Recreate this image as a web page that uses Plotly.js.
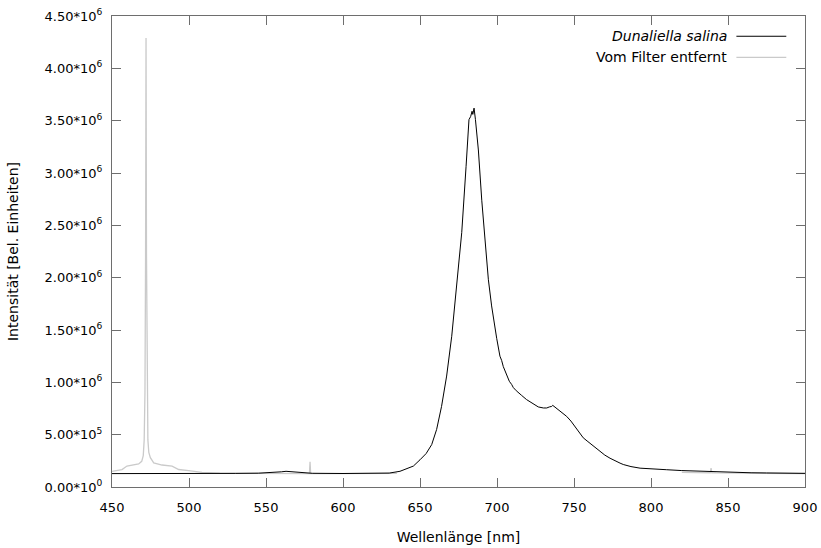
<!DOCTYPE html>
<html>
<head>
<meta charset="utf-8">
<script src="https://cdn.plot.ly/plotly-3.0.1.min.js"></script>
<style>html,body{margin:0;padding:0;background:#fff}#chart{width:821px;height:548px}</style>
</head>
<body>
<div id="chart"></div>
<script>
// Dunaliella salina spectrum (wavelength nm, intensity)
const salinaX = [450, 470, 490, 510, 530, 545, 555, 560, 563, 567, 572, 580, 600, 620, 630, 637, 642, 645.7, 650, 654, 657.6, 660.8, 664, 667.3, 670.6, 672.7, 674.9, 677.1, 679.9, 681.8, 682.9, 683.8, 684.3, 685.1, 686, 687.9, 690.1, 692.2, 694.4, 696.5, 698.7, 699.8, 701.9, 703, 704.1, 706.3, 708, 709.5, 710.6, 712.5, 714.9, 716, 719.2, 721.4, 723.6, 726.8, 730.1, 732.3, 734, 735.5, 736.2, 738, 740.9, 743, 745.2, 748, 750.6, 753, 756, 758.5, 761.5, 764, 766.9, 770, 773.4, 777, 779.9, 782, 787, 792.9, 800, 810.2, 820, 831.8, 845, 853.5, 865, 875, 888, 900];
const salinaY = [128000, 127000, 129000, 128000, 130000, 132000, 137000, 145000, 150000, 147000, 137000, 131000, 129000, 130000, 133000, 150000, 175000, 200000, 260000, 320000, 405000, 550000, 770000, 1060000, 1440000, 1760000, 2080000, 2430000, 3060000, 3510000, 3540000, 3590000, 3560000, 3620000, 3510000, 3220000, 2740000, 2330000, 1980000, 1730000, 1500000, 1420000, 1250000, 1210000, 1150000, 1060000, 1010000, 980000, 950000, 920000, 895000, 875000, 835000, 815000, 790000, 765000, 755000, 755000, 765000, 770000, 780000, 760000, 720000, 700000, 675000, 630000, 580000, 530000, 470000, 440000, 405000, 375000, 335000, 305000, 275000, 245000, 228000, 215000, 195000, 180000, 172000, 165000, 157000, 150000, 143000, 140000, 136000, 134000, 131000, 130000];

// Reference measurement with filter removed (null = not visible in the picture)
const filterX = [450, 453, 456.5, 459.7, 463, 467.3, 469.3, 470.3, 470.9, 471.4, 471.8, 472.1, 472.4, 472.8, 473.3, 473.9, 474.9, 477.1, 482.5, 489, 493.3, 499.8, 508.4, 520, 540, 560, 575, 578.2, 578.6, 579, 585, 620, 635, 640, 810, 820, 836, 838.5, 839, 839.5, 842, 900];
const filterY = [150000, 160000, 167000, 200000, 210000, 220000, 245000, 300000, 450000, 900000, 2200000, 4290000, 2200000, 900000, 450000, 330000, 280000, 230000, 210000, 200000, 167000, 157000, 140000, 132000, 128000, 127000, 127000, 127000, 240000, 127000, 127000, 128000, 130000, null, null, 140000, 136000, 136000, 180000, 136000, 134000, 129000];

const seriesNames = ["<i>Dunaliella salina</i>", "Vom Filter entfernt"];
const yTickVals = [0, 500000, 1000000, 1500000, 2000000, 2500000, 3000000, 3500000, 4000000, 4500000];
const yTickText = ["0.00*10<sup>0</sup>", "5.00*10<sup>5</sup>", "1.00*10<sup>6</sup>", "1.50*10<sup>6</sup>", "2.00*10<sup>6</sup>", "2.50*10<sup>6</sup>", "3.00*10<sup>6</sup>", "3.50*10<sup>6</sup>", "4.00*10<sup>6</sup>", "4.50*10<sup>6</sup>"];
const xTickVals = [450, 500, 550, 600, 650, 700, 750, 800, 850, 900];

const grey = "#cacaca";
const traces = [
  {x: filterX, y: filterY, type: "scatter", mode: "lines", name: seriesNames[1], connectgaps: false,
   line: {color: grey, width: 1.3}, showlegend: false, hoverinfo: "skip"},
  {x: salinaX, y: salinaY, type: "scatter", mode: "lines", name: seriesNames[0],
   line: {color: "#000000", width: 1}, showlegend: false, hoverinfo: "skip"}
];

const font = {family: "DejaVu Sans, sans-serif", size: 13, color: "#000"};
const bigFont = {family: "DejaVu Sans, sans-serif", size: 14, color: "#000"};
const frameCol = "#6e6e6e";
const layout = {
  width: 821, height: 548,
  margin: {l: 112, r: 16, t: 16, b: 61},
  paper_bgcolor: "#fff", plot_bgcolor: "#fff",
  font: font,
  showlegend: false,
  xaxis: {
    range: [450, 900], tickvals: xTickVals, ticks: "inside", ticklen: 9, tickcolor: frameCol, tickwidth: 1,
    showline: true, linecolor: frameCol, linewidth: 1, mirror: "allticks", showgrid: false, zeroline: false,
    title: {text: "Wellenlänge [nm]", font: bigFont, standoff: 18},
    tickfont: font, ticklabelstandoff: 8
  },
  yaxis: {
    range: [0, 4500000], tickvals: yTickVals, ticktext: yTickText, ticks: "inside", ticklen: 9, tickcolor: frameCol, tickwidth: 1,
    showline: true, linecolor: frameCol, linewidth: 1, mirror: "allticks", showgrid: false, zeroline: false,
    title: {text: "Intensität [Bel. Einheiten]", font: bigFont, standoff: 22},
    tickfont: font, ticklabelstandoff: 6
  },
  annotations: [
    {xref: "paper", yref: "paper", x: 0.891, y: 0.957, xanchor: "right", yanchor: "middle",
     text: seriesNames[0], showarrow: false, font: bigFont},
    {xref: "paper", yref: "paper", x: 0.891, y: 0.912, xanchor: "right", yanchor: "middle",
     text: seriesNames[1], showarrow: false, font: bigFont}
  ],
  shapes: [
    {type: "line", xref: "paper", yref: "paper", x0: 0.901, x1: 0.973, y0: 0.957, y1: 0.957, line: {color: "#000", width: 1}},
    {type: "line", xref: "paper", yref: "paper", x0: 0.901, x1: 0.973, y0: 0.912, y1: 0.912, line: {color: grey, width: 1.3}}
  ]
};

Plotly.newPlot("chart", traces, layout, {staticPlot: true, displayModeBar: false});
</script>
</body>
</html>
